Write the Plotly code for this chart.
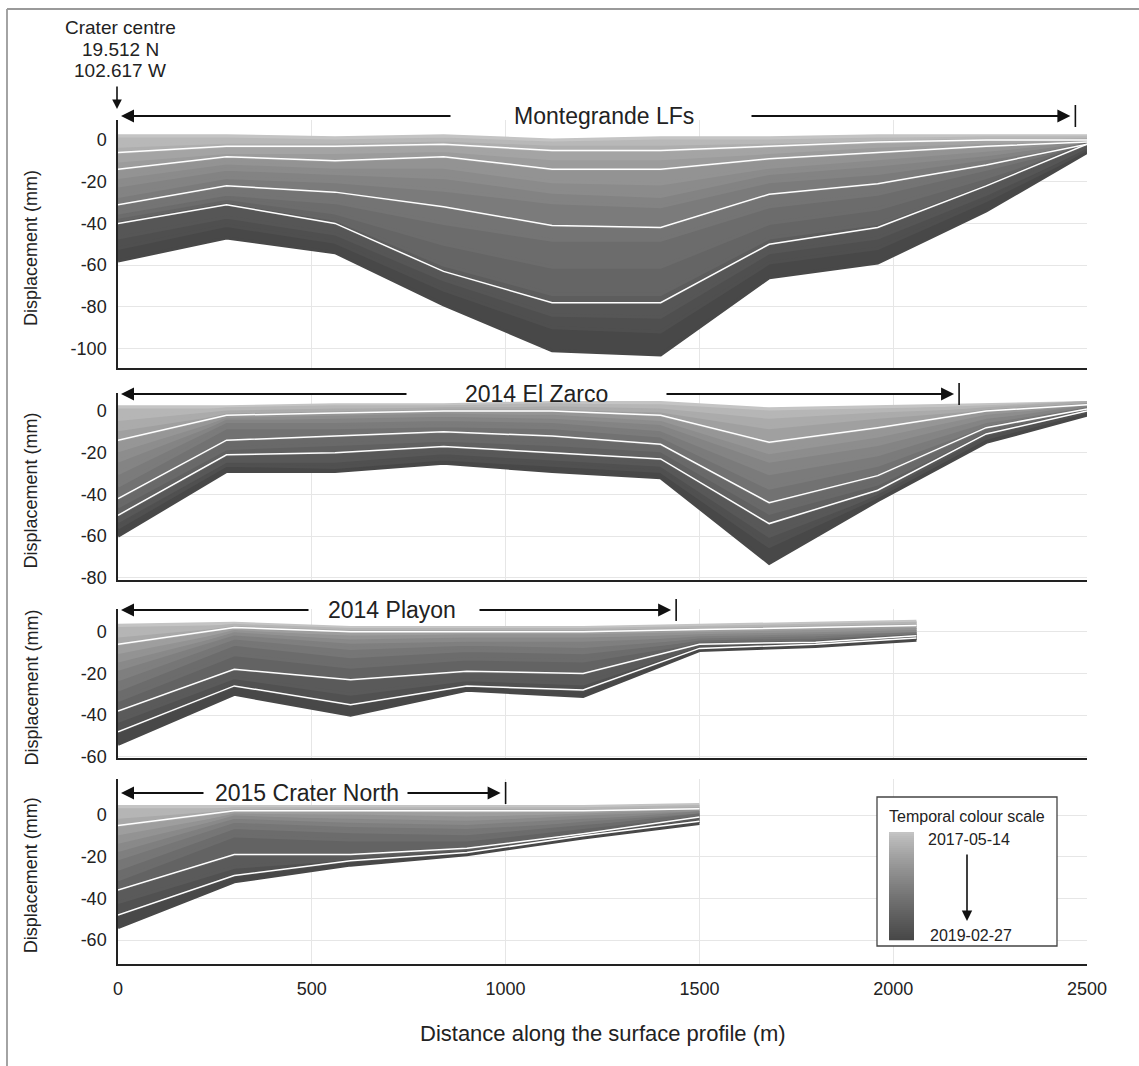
import plotly.graph_objects as go

W, H = 1139, 1066

# ------------------------------------------------------------------ data
date_first = "2017-05-14"
date_last = "2019-02-27"

zone_labels = ["Montegrande LFs", "2014 El Zarco", "2014 Playon", "2015 Crater North"]
zone_end_m = [2470, 2170, 1440, 1000]

# distance of profile nodes from crater centre (m)
dist_montegrande = [0, 280, 560, 840, 1120, 1400, 1680, 1960, 2240, 2500]
dist_elzarco = [0, 280, 560, 840, 1120, 1400, 1680, 1960, 2240, 2500]
dist_playon = [0, 300, 600, 900, 1200, 1500, 1800, 2060]
dist_craternorth = [0, 300, 600, 900, 1200, 1500]

# cumulative displacement (mm), one row per epoch, earliest -> latest
disp_montegrande = [
    [2, 2, 1, 2, 0, 1, 1, 2, 2, 2],
    [-3, -1, -1, 0, -2, -2, -1, 0, 1, 1],
    [-6, -3, -3, -2, -5, -5, -3, -1, 0, 0],
    [-10, -6, -6, -5, -9, -9, -6, -3, -1, 0],
    [-14, -8, -10, -8, -14, -14, -9, -6, -3, -1],
    [-18, -11, -13, -13, -20, -21, -13, -9, -5, -1],
    [-22, -14, -16, -18, -25, -27, -16, -12, -7, -1],
    [-27, -18, -20, -24, -30, -32, -20, -16, -9, -2],
    [-31, -22, -25, -32, -41, -42, -26, -21, -12, -2],
    [-35, -26, -30, -40, -48, -48, -32, -26, -14, -2],
    [-37, -28, -35, -50, -61, -61, -40, -33, -18, -2],
    [-39, -30, -38, -60, -74, -74, -47, -40, -21, -2],
    [-40, -31, -40, -63, -78, -78, -50, -42, -22, -2],
    [-47, -37, -45, -67, -84, -85, -54, -47, -26, -4],
    [-52, -41, -49, -72, -90, -92, -59, -52, -29, -5],
    [-58, -47, -54, -79, -101, -103, -66, -59, -34, -6],
]
disp_elzarco = [
    [2, 2, 3, 3, 4, 4, 1, 2, 3, 4],
    [-4, 1, 2, 2, 3, 2, -3, 0, 2, 4],
    [-9, -1, 0, 1, 1, 0, -8, -3, 1, 4],
    [-14, -2, -1, 0, 0, -2, -15, -8, 0, 3],
    [-19, -3, -2, -1, -1, -4, -20, -12, -1, 3],
    [-24, -4, -3, -2, -3, -6, -24, -16, -3, 2],
    [-30, -5, -5, -4, -5, -9, -30, -21, -5, 2],
    [-36, -8, -8, -7, -8, -12, -37, -26, -7, 1],
    [-42, -14, -12, -10, -12, -16, -44, -31, -8, 1],
    [-46, -18, -16, -14, -16, -19, -49, -35, -10, 0],
    [-50, -21, -20, -17, -20, -23, -54, -38, -11, 0],
    [-53, -24, -24, -20, -23, -26, -60, -40, -12, -1],
    [-56, -26, -27, -23, -26, -29, -65, -41, -13, -1],
    [-60, -29, -29, -25, -29, -32, -73, -43, -15, -2],
]
disp_playon = [
    [3, 4, 2, 2, 2, 3, 4, 5],
    [-2, 3, 1, 1, 1, 2, 3, 4],
    [-6, 2, 0, 0, 0, 1, 2, 3],
    [-10, 1, -1, -1, -1, 0, 1, 2],
    [-14, 0, -3, -2, -2, -1, 0, 1],
    [-18, -1, -5, -4, -4, -2, -1, 0],
    [-23, -3, -8, -6, -7, -3, -2, -1],
    [-28, -6, -12, -9, -10, -4, -3, -1],
    [-33, -11, -17, -13, -14, -5, -4, -2],
    [-38, -18, -23, -19, -20, -6, -5, -2],
    [-43, -22, -30, -23, -25, -7, -5, -3],
    [-48, -26, -35, -26, -28, -8, -6, -3],
    [-54, -30, -40, -28, -31, -9, -7, -4],
]
disp_craternorth = [
    [4, 4, 4, 4, 4, 5],
    [-1, 3, 3, 3, 3, 4],
    [-5, 2, 2, 2, 2, 3],
    [-9, 1, 1, 0, 1, 2],
    [-13, 0, -1, -2, 0, 2],
    [-17, -1, -3, -4, -1, 1],
    [-21, -3, -5, -6, -3, 1],
    [-26, -6, -8, -9, -4, 0],
    [-31, -10, -12, -12, -6, 0],
    [-36, -19, -19, -16, -9, -1],
    [-42, -25, -21, -18, -10, -2],
    [-48, -29, -22, -18, -10, -3],
    [-54, -32, -24, -19, -11, -4],
]
# epochs followed by an acquisition gap (appear as white lines)
gaps_montegrande = [2, 4, 8, 12]
gaps_elzarco = [3, 8, 10]
gaps_playon = [2, 9, 11]
gaps_craternorth = [2, 9, 11]

y_tick_values = [0, -20, -40, -60, -80, -100]
y_tick_labels = ["0", "-20", "-40", "-60", "-80", "-100"]

# ------------------------------------------------------------------ layout helpers
FONT = "Liberation Sans, Arial, sans-serif"
LIGHT, DARK = 196, 72


def px(x):
    return x / W


def py(y):
    return 1 - y / H


def grey(i, n, lift=0):
    t = (i / (n - 1)) ** 0.85
    v = int(round(LIGHT + (DARK - LIGHT) * t)) + lift
    v = max(0, min(255, v))
    return f"rgb({v},{v},{v})"


PPM = 2.085            # pixels per mm (vertical)
X0, X1 = 118, 1087     # plot left/right pixel
XMAX = 2500
panels = [
    dict(top=120, bot=368, zero=140),
    dict(top=393, bot=580, zero=411),
    dict(top=609, bot=758, zero=631.7),
    dict(top=779, bot=963.5, zero=815),
]
datasets = [
    (dist_montegrande, disp_montegrande, gaps_montegrande),
    (dist_elzarco, disp_elzarco, gaps_elzarco),
    (dist_playon, disp_playon, gaps_playon),
    (dist_craternorth, disp_craternorth, gaps_craternorth),
]

fig = go.Figure()
layout = dict(
    width=W, height=H,
    margin=dict(l=0, r=0, t=0, b=0),
    paper_bgcolor="white", plot_bgcolor="white",
    showlegend=False,
    font=dict(family=FONT, color="#222"),
)

for k, (pan, (dist, rows, gaps)) in enumerate(zip(panels, datasets)):
    n = k + 1
    xa = "x" if n == 1 else f"x{n}"
    ya = "y" if n == 1 else f"y{n}"
    ymax = (pan["zero"] - pan["top"]) / PPM
    ymin = -(pan["bot"] - pan["zero"]) / PPM
    layout["xaxis" if n == 1 else f"xaxis{n}"] = dict(
        domain=[px(X0), px(X1)], range=[0, XMAX], anchor=ya,
        showgrid=True, gridcolor="#e6e6e6", gridwidth=1, tick0=0, dtick=500,
        zeroline=False, showline=True, linecolor="#222", linewidth=2,
        ticks="", showticklabels=(n == 4), tickfont=dict(size=18, color="#222"),
        ticklabelstandoff=8, automargin=False, fixedrange=True,
    )
    layout["yaxis" if n == 1 else f"yaxis{n}"] = dict(
        domain=[py(pan["bot"]), py(pan["top"])], range=[ymin, ymax], anchor=xa,
        showgrid=True, gridcolor="#e6e6e6", gridwidth=1,
        tickmode="array", tickvals=y_tick_values, ticktext=y_tick_labels,
        zeroline=False, showline=True, linecolor="#222", linewidth=1.5,
        ticks="", tickfont=dict(size=18, color="#222"), ticklabelstandoff=6,
        automargin=False, fixedrange=True,
    )
    m = len(rows)
    for i, r in enumerate(rows):
        fig.add_trace(go.Scatter(
            x=dist, y=r, mode="lines", xaxis=xa, yaxis=ya,
            line=dict(color=grey(i, m), width=3.2),
            fill="none" if i == 0 else "tonexty", fillcolor=grey(i, m),
            hoverinfo="skip",
        ))
    for g in gaps:
        fig.add_trace(go.Scatter(
            x=dist, y=rows[g], mode="lines", xaxis=xa, yaxis=ya,
            line=dict(color="white", width=1.5), hoverinfo="skip",
        ))

annotations = []
shapes = []

# outer frame (left + top)
shapes.append(dict(type="line", xref="paper", yref="paper", x0=px(7), x1=px(7),
                   y0=py(9), y1=py(1066), line=dict(color="#9a9a9a", width=1.8)))
shapes.append(dict(type="line", xref="paper", yref="paper", x0=px(7), x1=px(1139),
                   y0=py(9), y1=py(9), line=dict(color="#9a9a9a", width=1.8)))

# y titles
for pan in panels:
    annotations.append(dict(
        text="Displacement (mm)", textangle=-90, xref="paper", yref="paper",
        x=px(31), y=py((pan["top"] + pan["bot"]) / 2 + 4), showarrow=False,
        xanchor="center", yanchor="middle", font=dict(size=18, color="#222")))
# x title
annotations.append(dict(
    text="Distance along the surface profile (m)", xref="paper", yref="paper",
    x=px(603), y=py(1033), showarrow=False, xanchor="center", yanchor="middle",
    font=dict(size=22, color="#222")))

# crater centre
for txt, yy in [("Crater centre", 28), ("19.512 N", 49.5), ("102.617 W", 71)]:
    annotations.append(dict(text=txt, xref="paper", yref="paper", x=px(120), y=py(yy),
                            showarrow=False, xanchor="center", yanchor="middle",
                            font=dict(size=19, color="#222")))
annotations.append(dict(text="", xref="paper", yref="paper", x=px(117), y=py(109),
                        ax=0, ay=-24, showarrow=True, arrowhead=2, arrowsize=1.2,
                        arrowwidth=1.6, arrowcolor="#111"))

# zone extent arrows
zone_pos = [
    dict(y=116, tx=604, lend=452, rstart=750),
    dict(y=394, tx=536, lend=408, rstart=665),
    dict(y=610, tx=392, lend=310, rstart=478),
    dict(y=793, tx=307, lend=205, rstart=406),
]
scale_x = (X1 - X0) / XMAX
for lab, end_m, zp in zip(zone_labels, zone_end_m, zone_pos):
    endpx = X0 + end_m * scale_x
    yy = zp["y"]
    annotations.append(dict(text=lab, xref="paper", yref="paper", x=px(zp["tx"]), y=py(yy),
                            showarrow=False, xanchor="center", yanchor="middle",
                            font=dict(size=23, color="#222")))
    annotations.append(dict(text="", xref="paper", yref="paper", x=px(121), y=py(yy),
                            ax=zp["lend"] - 121, ay=0, showarrow=True, arrowhead=2,
                            arrowsize=1.3, arrowwidth=2, arrowcolor="#111"))
    annotations.append(dict(text="", xref="paper", yref="paper", x=px(endpx - 5), y=py(yy),
                            ax=zp["rstart"] - (endpx - 5), ay=0, showarrow=True, arrowhead=2,
                            arrowsize=1.3, arrowwidth=2, arrowcolor="#111"))
    shapes.append(dict(type="line", xref="paper", yref="paper", x0=px(endpx), x1=px(endpx),
                       y0=py(yy - 11), y1=py(yy + 11), line=dict(color="#111", width=1.6)))

# temporal colour scale legend
shapes.append(dict(type="rect", xref="paper", yref="paper", x0=px(877), x1=px(1057),
                   y0=py(797), y1=py(946), fillcolor="white",
                   line=dict(color="#444", width=1.3), layer="above"))
NS = 54
bt, bb = 832, 940
for s in range(NS):
    y0 = bt + (bb - bt) * s / NS
    y1 = bt + (bb - bt) * (s + 1) / NS
    shapes.append(dict(type="rect", xref="paper", yref="paper", x0=px(889), x1=px(914),
                       y0=py(y1 + 0.3), y1=py(y0), fillcolor=grey(s, NS),
                       line=dict(width=0), layer="above"))
annotations.append(dict(text="Temporal colour scale", xref="paper", yref="paper",
                        x=px(967), y=py(816), showarrow=False, xanchor="center",
                        yanchor="middle", font=dict(size=16, color="#222")))
annotations.append(dict(text=date_first, xref="paper", yref="paper", x=px(969), y=py(839),
                        showarrow=False, xanchor="center", yanchor="middle",
                        font=dict(size=16, color="#222")))
annotations.append(dict(text=date_last, xref="paper", yref="paper", x=px(971), y=py(935),
                        showarrow=False, xanchor="center", yanchor="middle",
                        font=dict(size=16, color="#222")))
annotations.append(dict(text="", xref="paper", yref="paper", x=px(967), y=py(921),
                        ax=0, ay=-68, showarrow=True, arrowhead=2, arrowsize=1.3,
                        arrowwidth=1.6, arrowcolor="#111"))

layout["annotations"] = annotations
layout["shapes"] = shapes
fig.update_layout(**layout)
fig.write_html("out.html")
